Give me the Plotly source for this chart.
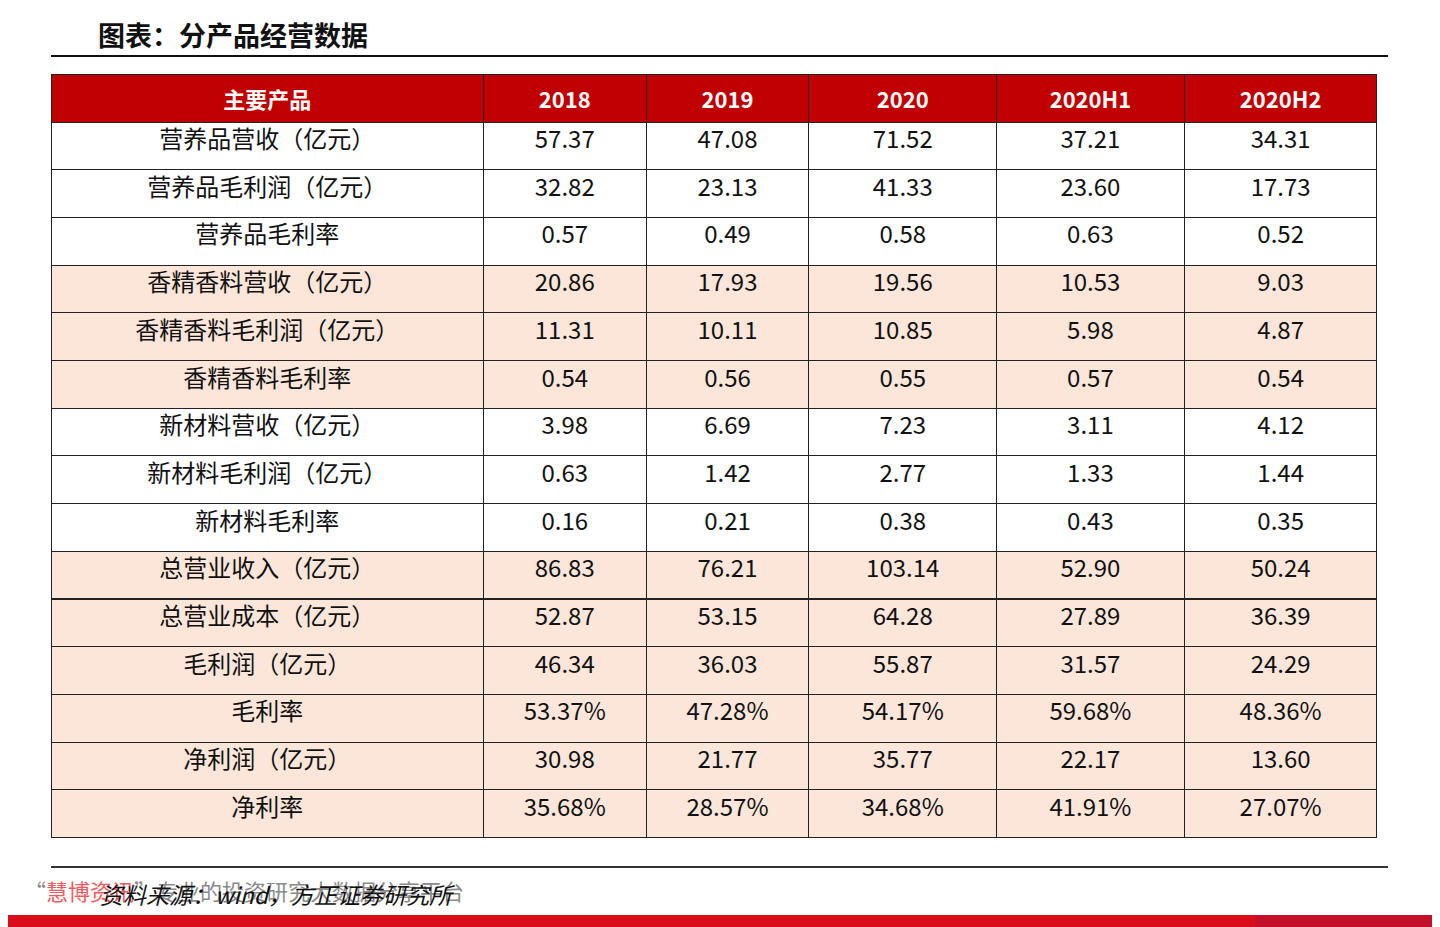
import plotly.graph_objects as go

# page offset (browser body margin) compensation
OFF = 8
W, H = 1440 - OFF, 927 - OFF


def px(x):
    return (x - OFF) / W


def py(y):
    return 1 - (y - OFF) / H


title = "图表：分产品经营数据"
source = "资料来源：wind，方正证券研究所"
watermark = "“<span style='color:#EE5A60'>慧博资讯</span>”专业的投资研究大数据分享平台"

header = ["主要产品", "2018", "2019", "2020", "2020H1", "2020H2"]
products = [
    "营养品营收（亿元）", "营养品毛利润（亿元）", "营养品毛利率",
    "香精香料营收（亿元）", "香精香料毛利润（亿元）", "香精香料毛利率",
    "新材料营收（亿元）", "新材料毛利润（亿元）", "新材料毛利率",
    "总营业收入（亿元）", "总营业成本（亿元）", "毛利润（亿元）",
    "毛利率", "净利润（亿元）", "净利率",
]
v2018 = ["57.37", "32.82", "0.57", "20.86", "11.31", "0.54", "3.98", "0.63", "0.16",
         "86.83", "52.87", "46.34", "53.37%", "30.98", "35.68%"]
v2019 = ["47.08", "23.13", "0.49", "17.93", "10.11", "0.56", "6.69", "1.42", "0.21",
         "76.21", "53.15", "36.03", "47.28%", "21.77", "28.57%"]
v2020 = ["71.52", "41.33", "0.58", "19.56", "10.85", "0.55", "7.23", "2.77", "0.38",
         "103.14", "64.28", "55.87", "54.17%", "35.77", "34.68%"]
v2020h1 = ["37.21", "23.60", "0.63", "10.53", "5.98", "0.57", "3.11", "1.33", "0.43",
           "52.90", "27.89", "31.57", "59.68%", "22.17", "41.91%"]
v2020h2 = ["34.31", "17.73", "0.52", "9.03", "4.87", "0.54", "4.12", "1.44", "0.35",
           "50.24", "36.39", "24.29", "48.36%", "13.60", "27.07%"]
shaded = [0, 0, 0, 1, 1, 1, 0, 0, 0, 1, 1, 1, 1, 1, 1]

WHITE, PEACH = "#FFFFFF", "#FCE6D9"
row_fill = [PEACH if s else WHITE for s in shaded]

font = "Noto Sans CJK SC"
x0, x1 = 51, 1378
y0, y1 = 74, 839

fig = go.Figure(go.Table(
    domain=dict(x=[px(x0), px(x1)], y=[py(y1), py(y0)]),
    columnwidth=[433, 163, 163, 188, 188, 193],
    header=dict(
        values=[f"<b>{h}</b>" for h in header],
        fill_color="#C00000",
        line=dict(color="#222222", width=1),
        font=dict(family=font, size=22, color="white"),
        align="center",
        height=48,
    ),
    cells=dict(
        values=[products, v2018, v2019, v2020, v2020h1, v2020h2],
        fill_color=[row_fill] * 6,
        line=dict(color="#222222", width=1),
        font=dict(family=font, size=24, color="#111111"),
        align="center",
        height=47.7,
    ),
))

fig.add_shape(type="line", xref="paper", yref="paper",
              x0=px(51), x1=px(1388), y0=py(56), y1=py(56),
              line=dict(color="#111111", width=2))
fig.add_shape(type="line", xref="paper", yref="paper",
              x0=px(51), x1=px(1388), y0=py(867), y1=py(867),
              line=dict(color="#333333", width=2))
fig.add_shape(type="rect", xref="paper", yref="paper",
              x0=px(0), x1=px(1255), y0=py(927), y1=py(915),
              line=dict(width=0), fillcolor="#DA0E1A")
fig.add_shape(type="rect", xref="paper", yref="paper",
              x0=px(1255), x1=px(1440), y0=py(927), y1=py(915),
              line=dict(width=0), fillcolor="#C30F27")

fig.add_annotation(text=f"<b>{title}</b>", xref="paper", yref="paper",
                   x=px(96), y=py(35), xanchor="left", yanchor="middle",
                   showarrow=False, font=dict(family=font, size=27, color="#111111"))
fig.add_annotation(text=watermark, xref="paper", yref="paper",
                   x=px(22), y=py(890), xanchor="left", yanchor="middle",
                   showarrow=False, font=dict(family=font, size=22, color="#8A8A8A"))
fig.add_annotation(text=f"<i>{source}</i>", xref="paper", yref="paper",
                   x=px(98), y=py(894), xanchor="left", yanchor="middle",
                   showarrow=False, font=dict(family=font, size=23, color="#111111"))

fig.update_layout(width=W, height=H, margin=dict(l=0, r=0, t=0, b=0),
                  paper_bgcolor="white", plot_bgcolor="white")

fig.write_html("out.html")
